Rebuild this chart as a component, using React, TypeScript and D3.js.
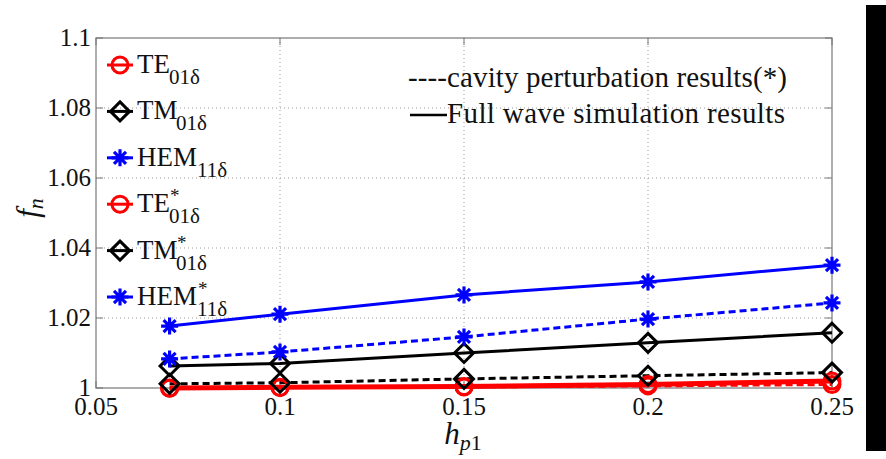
import React from "react";
import * as d3 from "d3";

const xs = [0.07, 0.1, 0.15, 0.2, 0.25];
const teFull = [1.0, 1.0002, 1.0004, 1.001, 1.002];
const tmFull = [1.0063, 1.007, 1.01, 1.0129, 1.0158];
const hemFull = [1.0177, 1.0211, 1.0266, 1.0303, 1.0351];
const teCav = [0.9999, 1.0001, 1.0003, 1.0006, 1.001];
const tmCav = [1.0012, 1.0015, 1.0026, 1.0035, 1.0044];
const hemCav = [1.0083, 1.0103, 1.0146, 1.0197, 1.0243];
const xTicks = [0.05, 0.1, 0.15, 0.2, 0.25];
const xTickLabels = ["0.05", "0.1", "0.15", "0.2", "0.25"];
const yTicks = [1, 1.02, 1.04, 1.06, 1.08, 1.1];
const yTickLabels = ["1", "1.02", "1.04", "1.06", "1.08", "1.1"];

type Marker = "circle" | "diamond" | "star";
const series = [
  { name: "TE", sub: "01δ", star: false, values: teFull, color: "#ff0000", marker: "circle" as Marker, dashed: false, width: 5 },
  { name: "TM", sub: "01δ", star: false, values: tmFull, color: "#000000", marker: "diamond" as Marker, dashed: false, width: 3 },
  { name: "HEM", sub: "11δ", star: false, values: hemFull, color: "#0000ff", marker: "star" as Marker, dashed: false, width: 3 },
  { name: "TE", sub: "01δ", star: true, values: teCav, color: "#ff0000", marker: "circle" as Marker, dashed: true, width: 3 },
  { name: "TM", sub: "01δ", star: true, values: tmCav, color: "#000000", marker: "diamond" as Marker, dashed: true, width: 3 },
  { name: "HEM", sub: "11δ", star: true, values: hemCav, color: "#0000ff", marker: "star" as Marker, dashed: true, width: 3 },
];

const W = 886, H = 459;
const L = 96, R = 832, T = 38, B = 388;
const FAM = '"Liberation Serif", "Times New Roman", serif';
const TS = { fontFamily: FAM };

function MarkerShape({ type, x, y, color }: { type: Marker; x: number; y: number; color: string }) {
  if (type === "circle") {
    return <circle cx={x} cy={y} r={8} fill="none" stroke={color} strokeWidth={3} />;
  }
  if (type === "diamond") {
    const s = 9.5;
    return (
      <path d={`M${x},${y - s}L${x + s},${y}L${x},${y + s}L${x - s},${y}Z`} fill="none" stroke={color} strokeWidth={3} strokeLinejoin="miter" />
    );
  }
  const s = 8.5;
  const d = s * 0.7071;
  return (
    <path
      d={`M${x - s},${y}L${x + s},${y}M${x},${y - s}L${x},${y + s}M${x - d},${y - d}L${x + d},${y + d}M${x - d},${y + d}L${x + d},${y - d}`}
      stroke={color}
      strokeWidth={3.2}
      fill="none"
    />
  );
}

export default function App() {
  const x = d3.scaleLinear().domain([0.05, 0.25]).range([L, R]);
  const y = d3.scaleLinear().domain([1, 1.1]).range([B, T]);
  const line = d3
    .line<number>()
    .x((_, i) => x(xs[i]))
    .y((v) => y(v));

  const legendY0 = 65;
  const legendStep = 46.4;
  const subX = (n: string) => 137 + (n === "HEM" ? 60 : n === "TM" ? 39 : 32);

  return (
    <svg width={W} height={H} fontFamily={FAM} style={{ position: "absolute", left: 0, top: 0, background: "#fff", fontFamily: FAM }}>
      <rect x={0} y={0} width={W} height={H} fill="#fff" />
      {xTicks.slice(1, -1).map((t) => (
        <line key={"gx" + t} x1={x(t)} x2={x(t)} y1={T} y2={B} stroke="#999" strokeWidth={1} strokeDasharray="1,3" />
      ))}
      {yTicks.slice(1, -1).map((t) => (
        <line key={"gy" + t} x1={L} x2={R} y1={y(t)} y2={y(t)} stroke="#999" strokeWidth={1} strokeDasharray="1,3" />
      ))}
      {xTicks.map((t) => (
        <g key={"tx" + t}>
          <line x1={x(t)} x2={x(t)} y1={B} y2={B - 7} stroke="#777" />
          <line x1={x(t)} x2={x(t)} y1={T} y2={T + 7} stroke="#777" />
        </g>
      ))}
      {yTicks.map((t) => (
        <g key={"ty" + t}>
          <line x1={L} x2={L + 7} y1={y(t)} y2={y(t)} stroke="#777" />
          <line x1={R} x2={R - 7} y1={y(t)} y2={y(t)} stroke="#777" />
        </g>
      ))}
      <rect x={L} y={T} width={R - L} height={B - T} fill="none" stroke="#777" strokeWidth={1.2} />
      {xTicks.map((t, i) => (
        <text key={"xl" + t} x={x(t)} y={415} fontSize={25} textAnchor="middle" fill="#111" style={TS}>
          {xTickLabels[i]}
        </text>
      ))}
      {yTicks.map((t, i) => (
        <text key={"yl" + t} x={91} y={y(t) + 8} fontSize={25} textAnchor="end" fill="#111" style={TS}>
          {yTickLabels[i]}
        </text>
      ))}
      <text x={463} y={444} textAnchor="middle" fill="#111" fontSize={31} style={TS}>
        <tspan fontStyle="italic">h</tspan>
        <tspan fontSize={22} dy={6} fontStyle="italic">p</tspan>
        <tspan fontSize={22}>1</tspan>
      </text>
      <text transform="translate(38,208) rotate(-90)" textAnchor="middle" fill="#111" fontStyle="italic" fontSize={31} style={TS}>
        f<tspan fontSize={22} dy={5}>n</tspan>
      </text>
      {series.map((s, si) => (
        <path
          key={"l" + si}
          d={line(s.values) || ""}
          fill="none"
          stroke={s.color}
          strokeWidth={s.width}
          strokeDasharray={s.dashed ? "7,4" : undefined}
        />
      ))}
      {series.map((s, si) =>
        s.values.map((v, i) => <MarkerShape key={`m${si}-${i}`} type={s.marker} x={x(xs[i])} y={y(v)} color={s.color} />)
      )}
      {series.map((s, si) => {
        const cy = legendY0 + si * legendStep;
        return (
          <g key={"lg" + si}>
            <line x1={107} x2={133} y1={cy} y2={cy} stroke={s.color} strokeWidth={3} />
            <MarkerShape type={s.marker} x={120} y={cy} color={s.color} />
            <text x={137} y={cy + 8} fontSize={27} fill="#111" style={TS}>
              {s.name}
            </text>
            {s.star && (
              <text x={subX(s.name) + 1} y={cy - 2} fontSize={19} fill="#111" style={TS}>
                *
              </text>
            )}
            <text x={subX(s.name)} y={cy + 19} fontSize={21} fill="#111" style={TS}>
              {s.sub}
            </text>
          </g>
        );
      })}
      <text x={408} y={87} fontSize={29} fill="#111" style={TS} textLength={379} lengthAdjust="spacing">
        ----cavity perturbation results(*)
      </text>
      <line x1={410} x2={447} y1={115} y2={115} stroke="#000" strokeWidth={2.5} />
      <text x={447} y={123} fontSize={29} fill="#111" style={TS} textLength={338} lengthAdjust="spacing">
        Full wave simulation results
      </text>
      <rect x={866} y={5} width={20} height={446} fill="#000" />
    </svg>
  );
}
